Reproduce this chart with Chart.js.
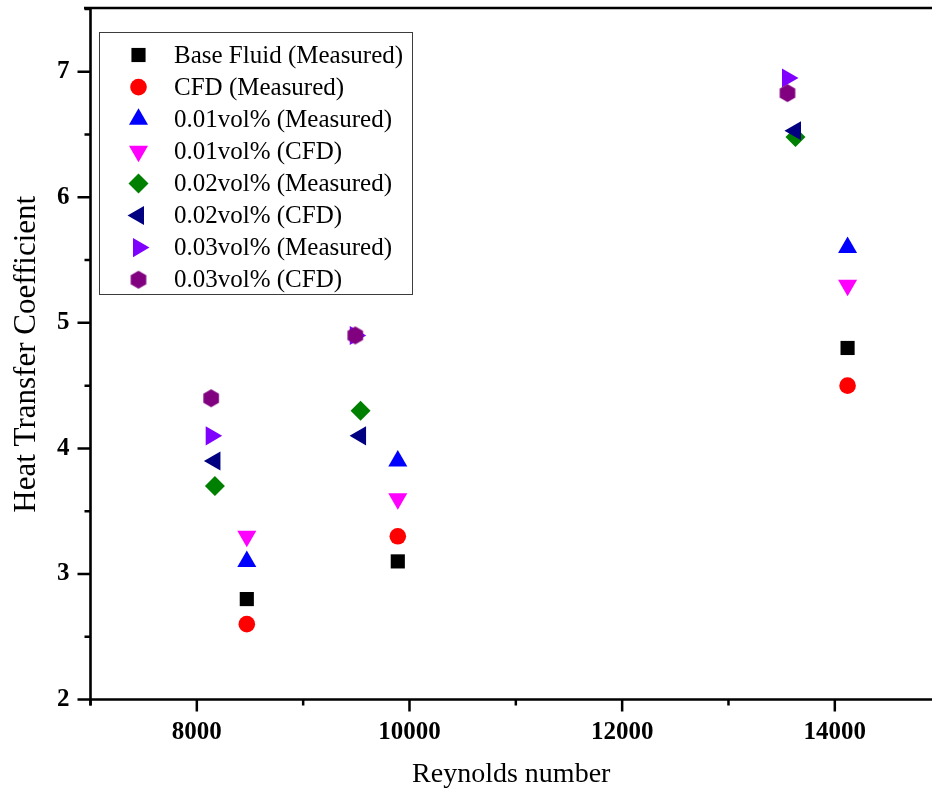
<!DOCTYPE html>
<html>
<head>
<meta charset="utf-8">
<script src="https://cdn.jsdelivr.net/npm/chart.js@4/dist/chart.umd.min.js"></script>
<style>
html,body{margin:0;padding:0;background:#ffffff;}
#wrap{width:932px;height:799px;position:relative;}
</style>
</head>
<body>
<div id="wrap"><canvas id="c" width="932" height="799"></canvas></div>
<script>
// ---------- data ----------
const seriesNames = [
  'Base Fluid (Measured)', 'CFD (Measured)',
  '0.01vol% (Measured)', '0.01vol% (CFD)',
  '0.02vol% (Measured)', '0.02vol% (CFD)',
  '0.03vol% (Measured)', '0.03vol% (CFD)'
];
const reBase   = [8470, 9890, 14120];
const re002    = [8170, 9540, 13630];
const re003    = [8135, 9490, 13555];

const baseFluidMeasured = [2.8, 3.1, 4.8];
const cfdMeasured       = [2.6, 3.3, 4.5];
const vol001Measured    = [3.1, 3.9, 5.6];
const vol001CFD         = [3.3, 3.6, 5.3];
const vol002Measured    = [3.7, 4.3, 6.48];
const vol002CFD         = [3.9, 4.1, 6.53];
const vol003Measured    = [4.1, 4.9, 6.95];
const vol003CFD         = [4.4, 4.9, 6.83];

const xTickValues = [8000, 10000, 12000, 14000];
const yTickValues = [2, 3, 4, 5, 6, 7];

// ---------- styles ----------
function makeHexagon(color, R) {
  const s = Math.ceil(R * 2 + 2);
  const cv = document.createElement('canvas');
  cv.width = s; cv.height = s;
  const g = cv.getContext('2d');
  g.fillStyle = color;
  g.beginPath();
  for (let k = 0; k < 6; k++) {
    const a = -Math.PI / 2 + k * Math.PI / 3;
    const px = s / 2 + R * Math.cos(a), py = s / 2 + R * Math.sin(a);
    if (k === 0) g.moveTo(px, py); else g.lineTo(px, py);
  }
  g.closePath();
  g.fill();
  return cv;
}
const hexImg = makeHexagon('#800080', 9);

const markerStyles = [
  {color: '#000000', pointStyle: 'rect',     radius: 10,  rotation: 0},
  {color: '#ff0000', pointStyle: 'circle',   radius: 8.3, rotation: 0},
  {color: '#0000ff', pointStyle: 'triangle', radius: 11,  rotation: 0},
  {color: '#ff00ff', pointStyle: 'triangle', radius: 11,  rotation: 180},
  {color: '#008000', pointStyle: 'rectRot',  radius: 10,  rotation: 0},
  {color: '#000080', pointStyle: 'triangle', radius: 11,  rotation: -90},
  {color: '#8000ff', pointStyle: 'triangle', radius: 11,  rotation: 90},
  {color: '#800080', pointStyle: hexImg,     radius: 9,   rotation: 0}
];

const xValues = [reBase, reBase, reBase, reBase, re002, re002, re003, re003];
const yValues = [baseFluidMeasured, cfdMeasured, vol001Measured, vol001CFD,
                 vol002Measured, vol002CFD, vol003Measured, vol003CFD];

const datasets = seriesNames.map((name, i) => ({
  label: name,
  data: xValues[i].map((x, j) => ({x: x, y: yValues[i][j]})),
  showLine: false,
  pointStyle: markerStyles[i].pointStyle,
  pointRadius: markerStyles[i].radius,
  pointHoverRadius: markerStyles[i].radius,
  pointRotation: markerStyles[i].rotation,
  backgroundColor: markerStyles[i].color,
  borderColor: markerStyles[i].color,
  borderWidth: 0,
  clip: false,
  order: seriesNames.length - i
}));

const FONT = "'Liberation Serif', 'Times New Roman', serif";

// ---------- plugins ----------
const axesPlugin = {
  id: 'originAxes',
  afterDatasetsDraw(chart) {
    const ctx = chart.ctx;
    const ca = chart.chartArea;
    const xs = chart.scales.x, ys = chart.scales.y;
    ctx.save();
    ctx.strokeStyle = '#000';
    ctx.lineWidth = 2.6;
    ctx.lineCap = 'butt';
    ctx.beginPath();
    // top line
    ctx.moveTo(84, ca.top - 1); ctx.lineTo(chart.width, ca.top - 1);
    // left axis
    ctx.moveTo(ca.left, ca.top - 2); ctx.lineTo(ca.left, ca.bottom + 6);
    // bottom axis
    ctx.moveTo(ca.left, ca.bottom); ctx.lineTo(chart.width, ca.bottom);
    ctx.stroke();
    ctx.lineWidth = 2.5;
    ctx.beginPath();
    for (let v = 7000; v <= xs.max; v += 1000) {
      const px = xs.getPixelForValue(v);
      const len = (v % 2000 === 0) ? 12 : 6;
      ctx.moveTo(px, ca.bottom); ctx.lineTo(px, ca.bottom + len);
    }
    for (let v = 2; v <= ys.max + 1e-9; v += 0.5) {
      const py = ys.getPixelForValue(v);
      const len = (Math.abs(v - Math.round(v)) < 1e-9) ? 13 : 6;
      ctx.moveTo(ca.left - len, py); ctx.lineTo(ca.left, py);
    }
    ctx.stroke();
    ctx.restore();
  }
};

const legendPlugin = {
  id: 'insideLegend',
  afterDraw(chart) {
    const ctx = chart.ctx;
    ctx.save();
    ctx.fillStyle = '#ffffff';
    ctx.fillRect(99.5, 32.5, 313, 262);
    ctx.strokeStyle = '#3c3c3c';
    ctx.lineWidth = 1;
    ctx.strokeRect(99.5, 32.5, 313, 262);
    ctx.font = '25px ' + FONT;
    ctx.textBaseline = 'middle';
    ctx.textAlign = 'left';
    seriesNames.forEach((name, i) => {
      const y = 55 + i * 32.1;
      const m = markerStyles[i];
      ctx.fillStyle = m.color;
      ctx.strokeStyle = m.color;
      Chart.helpers.drawPoint(ctx, {
        pointStyle: m.pointStyle, radius: m.radius, rotation: m.rotation, borderWidth: 0
      }, 138.5, y);
      ctx.fillStyle = '#000';
      ctx.fillText(name, 174, y + 1);
    });
    ctx.restore();
  }
};

// ---------- chart ----------
new Chart(document.getElementById('c'), {
  type: 'scatter',
  data: {datasets: datasets},
  options: {
    responsive: false,
    animation: false,
    devicePixelRatio: 1,
    layout: {autoPadding: false, padding: {top: 9, left: 0, right: 0, bottom: 0}},
    plugins: {legend: {display: false}, tooltip: {enabled: false}},
    scales: {
      x: {
        type: 'linear',
        min: 7000,
        max: 14914,
        afterBuildTicks: s => { s.ticks = xTickValues.map(v => ({value: v})); },
        afterFit: s => { s.height = 99.5; s.paddingLeft = 0; s.paddingRight = 0; },
        grid: {display: false, drawTicks: false},
        border: {display: false},
        ticks: {
          padding: 18, maxRotation: 0, autoSkip: false, color: '#000',
          font: {family: FONT, size: 25, weight: 'bold'},
          callback: v => String(v)
        },
        title: {
          display: true, text: 'Reynolds number', color: '#000',
          font: {family: FONT, size: 28, weight: 'normal'},
          padding: {top: 0, bottom: 8}
        }
      },
      y: {
        type: 'linear',
        min: 2,
        max: 7.5,
        afterBuildTicks: s => { s.ticks = yTickValues.map(v => ({value: v})); },
        afterFit: s => { s.width = 90.5; s.paddingTop = 0; s.paddingBottom = 0; },
        grid: {display: false, drawTicks: false},
        border: {display: false},
        ticks: {
          padding: 21, color: '#000',
          font: {family: FONT, size: 25, weight: 'bold'},
          callback: v => String(v)
        },
        title: {
          display: true, text: 'Heat Transfer Coefficient', color: '#000',
          font: {family: FONT, size: 31, weight: 'normal'},
          padding: {top: 8, bottom: 0}
        }
      }
    }
  },
  plugins: [axesPlugin, legendPlugin]
});
</script>
</body>
</html>
